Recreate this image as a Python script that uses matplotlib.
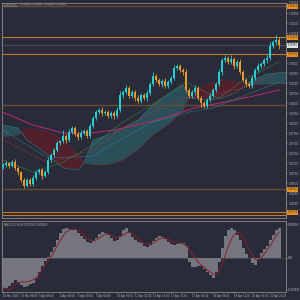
import matplotlib
matplotlib.use("Agg")
import matplotlib.pyplot as plt
import numpy as np

# ---------------- data ----------------
first_open = 1.06900
closes = [1.06950, 1.07000, 1.06925, 1.07025, 1.06875, 1.06775, 1.06575, 1.06425, 1.06575, 1.06475,
          1.06625, 1.06775, 1.06825, 1.06675, 1.06775, 1.07075, 1.07200, 1.07325, 1.07500, 1.07550,
          1.07675, 1.07575, 1.07775, 1.07875, 1.07725, 1.07650, 1.07750, 1.07800, 1.07675, 1.07925,
          1.08125, 1.08275, 1.08325, 1.08250, 1.08275, 1.08175, 1.08250, 1.08175, 1.08325, 1.08700,
          1.08775, 1.08875, 1.08675, 1.08775, 1.08625, 1.08550, 1.08700, 1.08625, 1.08750, 1.08975,
          1.09175, 1.09075, 1.08975, 1.09050, 1.08925, 1.09025, 1.09125, 1.09375, 1.09425, 1.09325,
          1.09275, 1.08825, 1.08675, 1.08775, 1.08875, 1.08625, 1.08500, 1.08425, 1.08575, 1.08675,
          1.08825, 1.08975, 1.09275, 1.09575, 1.09625, 1.09525, 1.09600, 1.09425, 1.09525, 1.09275,
          1.09075, 1.08975, 1.08925, 1.09125, 1.09325, 1.09425, 1.09475, 1.09575, 1.09625, 1.09925,
          1.10025, 1.10075, 1.09950]
upper_wick_pips = [4, 6, 3, 5, 8, 4, 3, 6, 5, 4,
                   7, 3, 5, 4, 6, 8, 5, 4, 6, 3,
                   15, 5, 7, 4, 6, 5, 8, 4, 5, 7,
                   6, 5, 4, 8, 5, 6, 4, 5, 7, 10,
                   6, 8, 5, 6, 4, 7, 5, 6, 8, 5,
                   9, 4, 6, 5, 7, 5, 6, 8, 5, 6,
                   4, 7, 5, 6, 8, 5, 4, 6, 5, 7,
                   6, 5, 8, 6, 7, 5, 9, 6, 5, 7,
                   4, 6, 5, 7, 6, 8, 5, 6, 7, 9,
                   6, 12, 8]
lower_wick_pips = [5, 4, 6, 3, 5, 7, 4, 6, 3, 5,
                   4, 6, 5, 7, 3, 4, 6, 5, 4, 6,
                   5, 7, 4, 6, 5, 8, 4, 6, 5, 4,
                   6, 4, 5, 7, 4, 6, 5, 8, 4, 5,
                   7, 5, 6, 4, 8, 5, 6, 4, 7, 5,
                   4, 6, 5, 7, 4, 6, 5, 4, 6, 5,
                   8, 5, 6, 4, 7, 5, 9, 6, 5, 4,
                   6, 5, 4, 7, 5, 6, 4, 8, 5, 6,
                   5, 7, 4, 6, 5, 4, 6, 5, 7, 4,
                   5, 6, 9]

# Ichimoku cloud (Senkou span A / B)
cloud_idx = [0, 5, 8, 15, 20, 25, 27, 30, 35, 40, 45, 50, 55, 60, 63, 68, 73, 78, 82, 88, 95]
span_a = [1.07950, 1.07875, 1.07575, 1.07200, 1.06875, 1.06825, 1.07000, 1.07575, 1.07700, 1.07875,
          1.08075, 1.08450, 1.08700, 1.08950, 1.08625, 1.08575, 1.08625, 1.08775, 1.09025, 1.09225, 1.09275]
span_b = [1.07650, 1.07700, 1.07875, 1.07775, 1.07575, 1.07200, 1.07000, 1.06950, 1.06950, 1.07075,
          1.07325, 1.07700, 1.07950, 1.08325, 1.08775, 1.08950, 1.09075, 1.09025, 1.08950, 1.08975, 1.08975]

# moving averages
ma_slow_idx = [-1, 10, 20, 29, 37, 49, 64, 82, 92]
ma_slow = [1.08300, 1.07950, 1.07750, 1.07750, 1.07825, 1.08025, 1.08375, 1.08650, 1.08825]
ma_green_idx = [0, 10, 20, 30, 40, 50, 61, 66, 72, 80, 92]
ma_green = [1.07075, 1.06775, 1.07025, 1.07450, 1.08025, 1.08475, 1.09025, 1.08825, 1.08625, 1.09075, 1.09525]
ma_red_idx = [0, 15, 30, 40, 50, 60, 70, 80, 92]
ma_red = [1.07575, 1.07000, 1.07325, 1.07875, 1.08275, 1.08625, 1.08700, 1.08875, 1.09275]
ma_teal_idx = [0, 15, 30, 40, 50, 62, 70, 80, 92]
ma_teal = [1.07825, 1.07125, 1.07175, 1.07625, 1.08025, 1.08275, 1.08375, 1.08675, 1.09025]

# horizontal levels
orange_levels = [1.10150, 1.09725, 1.05775, 1.05700]
brown_levels = [1.10925, 1.08450, 1.06350]
bid_price = 1.09950

# MACD (units of 1e-4)
macd_hist = [-7.5, -7.5, -7.0, -6.25, -5.5, -6.0, -6.75, -7.25, -7.0, -6.5,
             -6.25, -5.0, -3.5, -2.0, -0.75, 0.25, 1.5, 2.75, 4.5, 6.25,
             7.25, 7.5, 7.25, 7.0, 7.0, 6.25, 5.5, 4.75, 4.0, 3.75,
             4.25, 5.0, 6.0, 6.5, 6.25, 5.75, 5.0, 4.25, 4.5, 5.5,
             7.0, 7.5, 6.25, 5.25, 4.5, 4.0, 3.75, 3.0, 2.75, 3.25,
             4.25, 5.0, 5.5, 5.25, 4.75, 4.0, 3.5, 3.25, 3.5, 3.75,
             3.75, 3.0, -1.0, -2.25, -2.25, -2.0, -2.0, -2.75, -3.5, -4.25,
             -5.0, -3.5, -1.0, 2.5, 5.5, 7.0, 7.5, 7.0, 5.75, 4.5,
             2.5, 1.0, 0.0, -1.25, -1.75, -0.25, 1.25, 2.25, 3.0, 4.5,
             5.75, 7.0, 7.5]
macd_signal = [-7.5, -7.75, -8.0, -7.5, -6.75, -6.25, -6.0, -6.0, -6.0, -5.75,
               -5.5, -5.0, -4.0, -3.0, -1.75, -0.75, 0.25, 1.5, 3.0, 4.25,
               5.5, 6.5, 7.0, 7.25, 7.25, 7.0, 6.5, 5.75, 5.0, 4.5,
               4.25, 4.5, 5.0, 5.5, 6.0, 6.0, 5.75, 5.25, 5.0, 5.25,
               5.75, 6.25, 6.5, 6.25, 5.5, 4.75, 4.25, 3.75, 3.5, 3.5,
               3.75, 4.25, 4.75, 5.0, 5.0, 4.75, 4.25, 4.0, 3.75, 3.75,
               3.5, 3.25, 2.25, 1.0, 0.0, -1.0, -1.75, -2.25, -3.0, -3.5,
               -4.0, -4.0, -3.25, -1.75, 0.5, 2.75, 4.5, 5.75, 6.5, 6.25,
               5.25, 3.75, 2.25, 0.75, -0.25, -0.5, 0.0, 1.0, 2.0, 3.0,
               4.25, 5.5, 6.5]

time_label_idx = [0, 6, 12, 19, 25, 31, 38, 44, 50, 56, 63, 70, 77, 83, 89]
time_labels = ["30 Mar 2023", "31 Mar 08:00", "3 Apr 08:00", "4 Apr 16:00", "5 Apr 20:00",
               "7 Apr 04:00", "10 Apr 08:00", "11 Apr 12:00", "12 Apr 16:00", "13 Apr 20:00",
               "17 Apr 04:00", "18 Apr 08:00", "19 Apr 12:00", "20 Apr 16:00", "21 Apr 20:00"]
price_ticks = [1.0575 + 0.0025 * k for k in range(22)]
macd_ticks = [8.5, 0.0, -8.0]
macd_tick_labels = ["0.000850", "0.00", "-0.000800"]

# ---------------- style ----------------
BG = "#2a2b39"
BULL = "#22d0d4"
BEAR = "#e89a2a"
ORANGE = "#c47a2c"
BROWN = "#6a4a30"
AXC = "#8a8a8a"
TXT = "#b8b8b8"
FS = 1.8

fig = plt.figure(figsize=(3, 3), dpi=100, facecolor=BG)
ax = fig.add_axes([0.007, 0.273, 0.947, 0.717], facecolor=BG)
ax2 = fig.add_axes([0.007, 0.027, 0.947, 0.236], facecolor=BG)

xmin, xmax = -0.33, 94.4
n = len(closes)
x = np.arange(n)
c = np.array(closes)
o = np.array([first_open] + closes[:-1])
hi = np.maximum(o, c) + np.array(upper_wick_pips) * 1e-4
lo = np.minimum(o, c) - np.array(lower_wick_pips) * 1e-4

# cloud
ci = np.array(cloud_idx, float)
sa = np.array(span_a)
sb = np.array(span_b)
ax.fill_between(ci, sa, sb, where=sa >= sb, interpolate=True, color="#2c6870", alpha=0.6, lw=0, zorder=1)
ax.fill_between(ci, sa, sb, where=sa < sb, interpolate=True, color="#5a1e2a", alpha=0.8, lw=0, zorder=1)
ax.plot(ci, sa, color="#2f7d80", lw=0.4, zorder=2)
ax.plot(ci, sb, color="#6a2632", lw=0.4, zorder=2)

# moving averages
ax.plot(ma_slow_idx, ma_slow, color="#b0286e", lw=0.8, zorder=3)
ax.plot(ma_green_idx, ma_green, color="#3f9a4a", lw=0.6, ls=(0, (1, 1)), zorder=3)
ax.plot(ma_red_idx, ma_red, color="#a0383a", lw=0.6, ls=(0, (1, 1)), zorder=3)
ax.plot(ma_teal_idx, ma_teal, color="#2f8f95", lw=0.6, ls=(0, (1, 1)), zorder=3)

# levels
for lv in orange_levels:
    ax.axhline(lv, color=ORANGE, lw=0.8, zorder=2)
for lv in brown_levels:
    ax.axhline(lv, color=BROWN, lw=1.0, zorder=2)
ax.axhline(bid_price, color="#4c4f5e", lw=0.6, zorder=2)

# candles
up = c >= o
col = np.where(up, BULL, BEAR)
ax.vlines(x, lo, hi, colors=col, lw=0.6, zorder=4)
body_h = np.where(np.abs(c - o) < 0.00008, 0.00008, np.abs(c - o))
ax.bar(x, body_h, bottom=np.minimum(o, c), width=0.7, color=col, lw=0, zorder=5)

ax.set_xlim(xmin, xmax)
ax.set_ylim(1.05625, 1.11000)
ax.yaxis.tick_right()
ax.set_yticks(price_ticks)
ax.set_yticklabels([f"{t:.5f}" for t in price_ticks])
ax.tick_params(axis="y", labelsize=FS, colors=TXT, length=1.0, width=0.4, pad=0.5)
ax.set_xticks([])
for s in ax.spines.values():
    s.set_color(AXC)
    s.set_linewidth(0.6)

def tag(a, yv, text, fc, tc):
    a.text(1.004, yv, text, transform=a.get_yaxis_transform(), fontsize=FS, color=tc,
           va="center", ha="left",
           bbox=dict(boxstyle="square,pad=0.2", fc=fc, ec="none"), zorder=10, clip_on=False)

for lv in orange_levels[:2]:
    tag(ax, lv, f"{lv:.5f}", "#e8901e", "#2a2b39")
tag(ax, brown_levels[0], f"{brown_levels[0]:.5f}", "#e8901e", "#2a2b39")
tag(ax, brown_levels[2], f"{brown_levels[2]:.5f}", "#e8901e", "#2a2b39")
tag(ax, orange_levels[2], f"{orange_levels[2]:.5f}", "#e8901e", "#2a2b39")
tag(ax, bid_price, f"{bid_price:.5f}", "#e0e0e0", "#2a2b39")

# header
ax.text(0.005, 0.997, "EURUSD,H4", transform=ax.transAxes, fontsize=FS, color=TXT, va="top", ha="left")
hdr = [f"{o[-1]:.5f}", f"{hi[-1]:.5f}", f"{lo[-1]:.5f}", f"{c[-1]:.5f}"]
for k, t in enumerate(hdr):
    ax.text(0.065 + k * 0.042, 0.997, t, transform=ax.transAxes, fontsize=1.7, color=TXT, va="top",
            ha="left", bbox=dict(boxstyle="square,pad=0.15", fc="none", ec="#6a6a6a", lw=0.3))

# MACD panel
ax2.bar(x, np.array(macd_hist), width=1.0, color="#74757e", lw=0, zorder=2)
ax2.plot(x, macd_signal, color="#8a1f2c", lw=0.7, zorder=3)
ax2.axhline(0, color="#5a5c68", lw=0.4, zorder=1)
ax2.set_xlim(xmin, xmax)
ax2.set_ylim(-8.5, 9.25)
ax2.yaxis.tick_right()
ax2.set_yticks(macd_ticks)
ax2.set_yticklabels(macd_tick_labels)
ax2.tick_params(axis="y", labelsize=FS, colors=TXT, length=1.0, width=0.4, pad=0.5)
ax2.set_xticks(time_label_idx)
ax2.set_xticklabels(time_labels, ha="left")
ax2.tick_params(axis="x", labelsize=1.8, colors=TXT, length=1.0, width=0.4, pad=0.6)
for s in ax2.spines.values():
    s.set_color(AXC)
    s.set_linewidth(0.6)
ax2.text(0.005, 0.97, f"MACD(12,26,9) {macd_hist[-1] * 1e-4:.6f} {macd_signal[-1] * 1e-4:.6f}",
         transform=ax2.transAxes, fontsize=FS, color=TXT, va="top", ha="left")

fig.savefig("out.png", dpi=100, facecolor=BG)
